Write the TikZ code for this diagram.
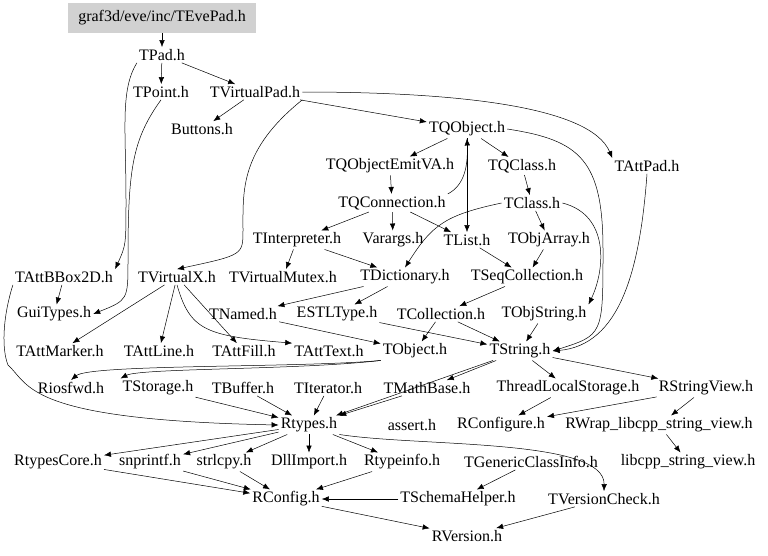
\documentclass[tikz,border=0pt]{standalone}
\usepackage{fontspec}
\setmainfont{Liberation Serif}
\usetikzlibrary{arrows.meta, positioning}

\tikzset{
  file/.style={inner sep=2pt, font=\fontsize{16}{18}\selectfont},
  dep/.style={draw, -{Latex[length=7pt,width=5.5pt]}, line width=0.5pt}
}

\begin{document}
\begin{tikzpicture}[x=1pt, y=-1pt]
    \useasboundingbox (0,0) rectangle (768,555);
    \node[file, fill=black!18, minimum width=188pt, minimum height=30pt] (top) at (162,18) {graf3d/eve/inc/TEvePad.h};
    \foreach \n/\x/\y/\t in {pad/162/55/TPad.h, point/161/92/TPoint.h, vpad/255/92/TVirtualPad.h,
        buttons/202/129/Buttons.h, qobj/467/129/TQObject.h, attpad/647/166/TAttPad.h,
        emit/390/166/TQObjectEmitVA.h, qclass/522/166/TQClass.h, qconn/392/203/TQConnection.h,
        class/532/203/TClass.h, interp/297/240/TInterpreter.h, varargs/393/240/Varargs.h,
        list/467/240/TList.h, objarr/549/240/TObjArray.h, bbox/64/277/TAttBBox2D.h,
        vx/177/277/TVirtualX.h, mutex/283/277/TVirtualMutex.h, dict/405/277/TDictionary.h,
        seq/527/277/TSeqCollection.h, gui/54/314/GuiTypes.h, named/243/314/TNamed.h,
        estl/337/314/ESTLType.h, coll/441/314/TCollection.h, objstr/544/314/TObjString.h,
        marker/60/351/TAttMarker.h, line/159/351/TAttLine.h, fill/244/351/TAttFill.h,
        text/329/351/TAttText.h, tobj/415/351/TObject.h, str/520/351/TString.h,
        iosfwd/71/388/Riosfwd.h, storage/158/388/TStorage.h, buffer/243/388/TBuffer.h,
        iter/328/388/TIterator.h, math/427/388/TMathBase.h, tls/568/388/ThreadLocalStorage.h,
        sview/706/388/RStringView.h, rtypes/309/425/Rtypes.h, assert/412/425/assert.h,
        rconfigure/501/425/RConfigure.h, wrap/659/425/RWrap\_libcpp\_string\_view.h,
        core/58/462/RtypesCore.h, snprintf/150/462/snprintf.h, strlcpy/224/462/strlcpy.h,
        dll/309/462/DllImport.h, typeinfo/402/462/Rtypeinfo.h, generic/531/462/TGenericClassInfo.h,
        libcpp/688/462/libcpp\_string\_view.h, rconfig/286/499/RConfig.h,
        schema/458/499/TSchemaHelper.h, vcheck/604/499/TVersionCheck.h, rversion/467/536/RVersion.h} {
        \node[file] (\n) at (\x,\y) {\t};
    }
    % straight includes
    \foreach \a/\b in {top/pad, pad/point, pad/vpad, vpad/buttons, vpad/qobj, qobj/emit, qobj/qclass,
        emit/qconn, qconn/interp, qconn/varargs, qconn/list, qclass/class, class/objarr,
        interp/mutex, interp/dict, list/seq, objarr/seq, seq/coll, dict/named, dict/estl,
        bbox/gui, vx/marker, vx/line, vx/fill, coll/tobj, coll/str, objstr/str, named/tobj,
        estl/str, str/math, str/tls, str/sview, storage/rtypes, buffer/rtypes, iter/rtypes,
        math/rtypes, str/rtypes, sview/rconfigure, sview/wrap, tls/rconfigure, wrap/libcpp,
        rtypes/core, rtypes/snprintf, rtypes/strlcpy, rtypes/dll, rtypes/typeinfo,
        core/rconfig, snprintf/rconfig, strlcpy/rconfig, typeinfo/rconfig, generic/schema,
        schema/rconfig, rconfig/rversion, vcheck/rversion} {
        \draw[dep] (\a) -- (\b);
    }
    % routed includes
    \draw[dep] (pad.south west) .. controls (120,90) and (126,130) .. (126,200) .. controls (126,245) .. (bbox.north east);
    \draw[dep] (point.south) .. controls (132,140) and (128,170) .. (128,260) .. controls (128,300) .. (gui.east);
    \draw[dep] (vpad.south east) .. controls (240,150) and (243,190) .. (243,230) .. controls (243,255) .. (vx.north);
    \draw[dep] (vpad.east) .. controls (450,92) and (590,105) .. (attpad.north west);
    \draw[dep] (qobj.east) .. controls (580,140) and (603,160) .. (603,250) .. controls (603,335) .. (str.east);
    \draw[dep] (qconn.north east) .. controls (465,185) and (468,165) .. (qobj.south);
    \draw[dep] (qobj.south) -- (list.north);
    \draw[dep] (class.west) .. controls (445,215) and (432,225) .. (dict.north);
    \draw[dep] (class.east) .. controls (610,215) and (605,270) .. (objstr.north east);
    \draw[dep] (attpad.south) .. controls (640,270) and (620,345) .. (str.east);
    \draw[dep] (vx.south) .. controls (190,330) and (205,336) .. (text.north west);
    \draw[dep] (tobj.south west) .. controls (300,368) and (90,364) .. (iosfwd.north);
    \draw[dep] (tobj.south west) .. controls (300,370) and (140,368) .. (storage.north west);
    \draw[dep] (bbox.south west) .. controls (2,320) and (2,350) .. (8,365) .. controls (30,385) and (25,420) .. (rtypes.west);
    \draw[dep] (rtypes.south east) .. controls (420,447) and (605,438) .. (vcheck.north);
\end{tikzpicture}
\end{document}
